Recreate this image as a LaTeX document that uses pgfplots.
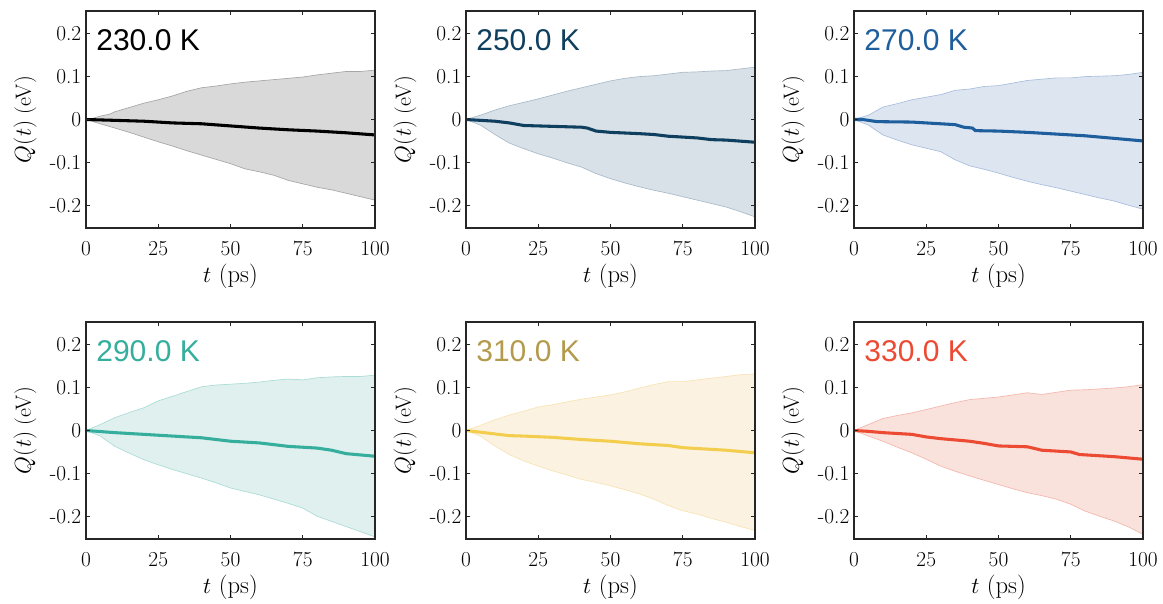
\documentclass[border=0pt]{standalone}
\usepackage{fontspec}
\newfontfamily\sansT{Liberation Sans}
\usepackage{pgfplots}
\pgfplotsset{compat=1.18}
\definecolor{c1}{HTML}{000000}\definecolor{f1}{HTML}{D9D9D9}\definecolor{e1}{HTML}{A6A6A6}
\definecolor{c2}{HTML}{0F3F5E}\definecolor{f2}{HTML}{D9E1E8}\definecolor{e2}{HTML}{A9BACA}
\definecolor{c3}{HTML}{1F5E9C}\definecolor{f3}{HTML}{DDE5F1}\definecolor{e3}{HTML}{A8BEDD}
\definecolor{c4}{HTML}{35AE9D}\definecolor{f4}{HTML}{DFF0EE}\definecolor{e4}{HTML}{A9DDD5}
\definecolor{c5}{HTML}{F3CE4E}\definecolor{t5}{HTML}{B39A4C}\definecolor{f5}{HTML}{FCF2E1}\definecolor{e5}{HTML}{F8E3B4}
\definecolor{c6}{HTML}{EC4A33}\definecolor{f6}{HTML}{F9E1DC}\definecolor{e6}{HTML}{F4B7AC}
\definecolor{axc}{HTML}{262626}
\tikzset{tlab/.style={font=\sansT\fontsize{22.5}{24}\selectfont,anchor=base west,inner sep=0pt}}
\pgfplotsset{
 panel/.style={width=216.75pt,height=162.75pt,scale only axis,anchor=south west,
  xmin=0,xmax=100,ymin=-0.253,ymax=0.253,
  xtick={0,25,50,75,100},xticklabels={0,25,50,75,100},
  ytick={-0.2,-0.1,0,0.1,0.2},yticklabels={-0.2,-0.1,0,0.1,0.2},
  tick align=inside,major tick length=3pt,
  axis line style={line width=1pt,color=axc},
  tick style={line width=0.8pt,color=axc},
  ticklabel style={font=\fontsize{16}{18}\selectfont},
  xticklabel style={yshift=-6.5pt},
  xlabel={$t$ (ps)},ylabel={$Q(t)$ (eV)},
  every axis x label/.style={at={(axis description cs:0.5,-0.222)},anchor=center,font=\fontsize{18.5}{20}\selectfont},
  every axis y label/.style={at={(axis description cs:-0.211,0.5)},rotate=90,anchor=center,font=\fontsize{16.5}{19}\selectfont},
  axis on top}
}
\begin{document}
\begin{tikzpicture}
% ---------- 230 K
\begin{axis}[panel,at={(64.5pt,281.25pt)}]
\addplot[fill=f1,draw=e1,line width=0.5pt] coordinates {(0,0) (2,0.002) (5,0.008) (8,0.012) (10,0.018) (15,0.028) (20,0.038) (25,0.046) (30,0.055) (35,0.066) (40,0.074) (45,0.078) (50,0.083) (55,0.087) (60,0.090) (65,0.093) (70,0.096) (75,0.099) (80,0.104) (85,0.108) (90,0.112) (95,0.112) (100,0.115)
 (100,-0.188) (95,-0.180) (90,-0.172) (85,-0.164) (80,-0.158) (75,-0.150) (70,-0.142) (65,-0.130) (60,-0.122) (55,-0.115) (50,-0.103) (45,-0.093) (40,-0.083) (35,-0.073) (30,-0.062) (25,-0.052) (20,-0.041) (15,-0.030) (10,-0.020) (5,-0.010) (0,0)} -- cycle;
\addplot[c1,line width=2.3pt] coordinates {(0,0) (10,-0.002) (20,-0.004) (30,-0.008) (40,-0.010) (50,-0.015) (60,-0.020) (70,-0.024) (80,-0.027) (90,-0.031) (100,-0.036)};
\node[tlab,text=c1] at (axis description cs:0.035,0.816) {230.0 K};
\end{axis}
% ---------- 250 K
\begin{axis}[panel,at={(349.5pt,281.25pt)}]
\addplot[fill=f2,draw=e2,line width=0.5pt] coordinates {(0,0) (5,0.010) (10,0.022) (15,0.032) (20,0.040) (25,0.048) (30,0.057) (35,0.066) (40,0.074) (45,0.082) (50,0.090) (55,0.096) (60,0.100) (65,0.102) (70,0.106) (75,0.110) (80,0.111) (85,0.113) (90,0.114) (95,0.118) (100,0.122)
 (100,-0.227) (95,-0.215) (90,-0.204) (85,-0.196) (80,-0.188) (75,-0.180) (70,-0.172) (65,-0.165) (60,-0.157) (55,-0.148) (50,-0.138) (45,-0.126) (40,-0.111) (35,-0.101) (30,-0.090) (25,-0.080) (20,-0.068) (15,-0.055) (10,-0.035) (5,-0.013) (0,0)} -- cycle;
\addplot[c2,line width=2.3pt] coordinates {(0,0) (5,-0.002) (10,-0.004) (15,-0.008) (20,-0.014) (25,-0.015) (30,-0.016) (40,-0.018) (42,-0.020) (45,-0.027) (50,-0.030) (60,-0.033) (65,-0.035) (70,-0.039) (75,-0.041) (80,-0.043) (85,-0.047) (90,-0.048) (100,-0.053)};
\node[tlab,text=c2] at (axis description cs:0.035,0.816) {250.0 K};
\end{axis}
% ---------- 270 K
\begin{axis}[panel,at={(640.5pt,281.25pt)}]
\addplot[fill=f3,draw=e3,line width=0.5pt] coordinates {(0,0) (5,0.010) (10,0.029) (15,0.037) (20,0.046) (25,0.052) (30,0.058) (35,0.068) (40,0.071) (45,0.077) (50,0.079) (55,0.085) (60,0.091) (65,0.094) (70,0.097) (75,0.097) (80,0.100) (85,0.101) (90,0.102) (95,0.105) (100,0.110)
 (100,-0.209) (95,-0.200) (90,-0.190) (85,-0.183) (80,-0.175) (75,-0.167) (70,-0.159) (65,-0.152) (60,-0.144) (55,-0.135) (50,-0.125) (45,-0.116) (40,-0.108) (35,-0.094) (30,-0.075) (25,-0.067) (20,-0.059) (15,-0.048) (10,-0.036) (5,-0.013) (0,0)} -- cycle;
\addplot[c3,line width=2.3pt] coordinates {(0,0) (3,0.0) (8,-0.005) (20,-0.006) (30,-0.010) (35,-0.012) (38,-0.018) (41,-0.020) (42,-0.026) (50,-0.027) (60,-0.030) (70,-0.034) (80,-0.038) (90,-0.044) (100,-0.050)};
\node[tlab,text=c3] at (axis description cs:0.035,0.816) {270.0 K};
\end{axis}
% ---------- 290 K
\begin{axis}[panel,at={(64.5pt,48pt)}]
\addplot[fill=f4,draw=e4,line width=0.5pt] coordinates {(0,0) (5,0.014) (10,0.030) (15,0.042) (20,0.053) (25,0.069) (30,0.080) (35,0.091) (40,0.102) (45,0.106) (50,0.108) (55,0.110) (60,0.113) (65,0.117) (70,0.120) (75,0.118) (80,0.123) (85,0.125) (90,0.126) (95,0.126) (100,0.129)
 (100,-0.248) (95,-0.236) (90,-0.224) (85,-0.212) (80,-0.200) (75,-0.181) (70,-0.170) (65,-0.160) (60,-0.150) (55,-0.142) (50,-0.134) (45,-0.122) (40,-0.111) (35,-0.101) (30,-0.091) (25,-0.080) (20,-0.068) (15,-0.053) (10,-0.037) (5,-0.013) (0,0)} -- cycle;
\addplot[c4,line width=2.3pt] coordinates {(0,0) (10,-0.005) (20,-0.009) (30,-0.013) (40,-0.017) (50,-0.025) (60,-0.029) (70,-0.037) (80,-0.041) (85,-0.046) (90,-0.054) (100,-0.060)};
\node[tlab,text=c4] at (axis description cs:0.035,0.816) {290.0 K};
\end{axis}
% ---------- 310 K
\begin{axis}[panel,at={(349.5pt,48pt)}]
\addplot[fill=f5,draw=e5,line width=0.5pt] coordinates {(0,0) (5,0.012) (10,0.025) (15,0.036) (20,0.045) (25,0.055) (30,0.060) (35,0.067) (40,0.073) (45,0.078) (50,0.083) (55,0.090) (60,0.099) (65,0.107) (70,0.114) (75,0.114) (80,0.118) (85,0.122) (90,0.126) (95,0.130) (100,0.132)
 (100,-0.233) (95,-0.224) (90,-0.214) (85,-0.205) (80,-0.195) (75,-0.187) (70,-0.175) (65,-0.160) (60,-0.148) (55,-0.138) (50,-0.129) (45,-0.121) (40,-0.114) (35,-0.104) (30,-0.094) (25,-0.083) (20,-0.071) (15,-0.056) (10,-0.036) (5,-0.013) (0,0)} -- cycle;
\addplot[c5,line width=2.3pt] coordinates {(0,0) (5,-0.004) (10,-0.008) (15,-0.012) (20,-0.013) (30,-0.016) (40,-0.021) (50,-0.025) (60,-0.031) (70,-0.035) (75,-0.040) (80,-0.042) (90,-0.046) (100,-0.052)};
\node[tlab,text=t5] at (axis description cs:0.035,0.816) {310.0 K};
\end{axis}
% ---------- 330 K
\begin{axis}[panel,at={(640.5pt,48pt)}]
\addplot[fill=f6,draw=e6,line width=0.5pt] coordinates {(0,0) (5,0.014) (10,0.028) (15,0.035) (20,0.041) (25,0.049) (30,0.057) (35,0.065) (40,0.072) (45,0.075) (50,0.078) (55,0.083) (60,0.088) (65,0.084) (70,0.089) (75,0.094) (80,0.095) (85,0.097) (90,0.099) (95,0.102) (100,0.107)
 (100,-0.242) (95,-0.225) (90,-0.211) (85,-0.200) (80,-0.188) (75,-0.172) (70,-0.160) (65,-0.152) (60,-0.145) (55,-0.136) (50,-0.126) (45,-0.116) (40,-0.106) (35,-0.095) (30,-0.083) (25,-0.067) (20,-0.052) (15,-0.039) (10,-0.025) (5,-0.013) (0,0)} -- cycle;
\addplot[c6,line width=2.3pt] coordinates {(0,0) (5,-0.002) (10,-0.005) (20,-0.009) (25,-0.015) (30,-0.019) (40,-0.025) (45,-0.030) (50,-0.036) (60,-0.038) (65,-0.046) (75,-0.050) (78,-0.056) (90,-0.061) (100,-0.067)};
\node[tlab,text=c6] at (axis description cs:0.035,0.816) {330.0 K};
\end{axis}
\pgfresetboundingbox
\path (0,0) rectangle (872.25pt,452.25pt);
\end{tikzpicture}
\end{document}
